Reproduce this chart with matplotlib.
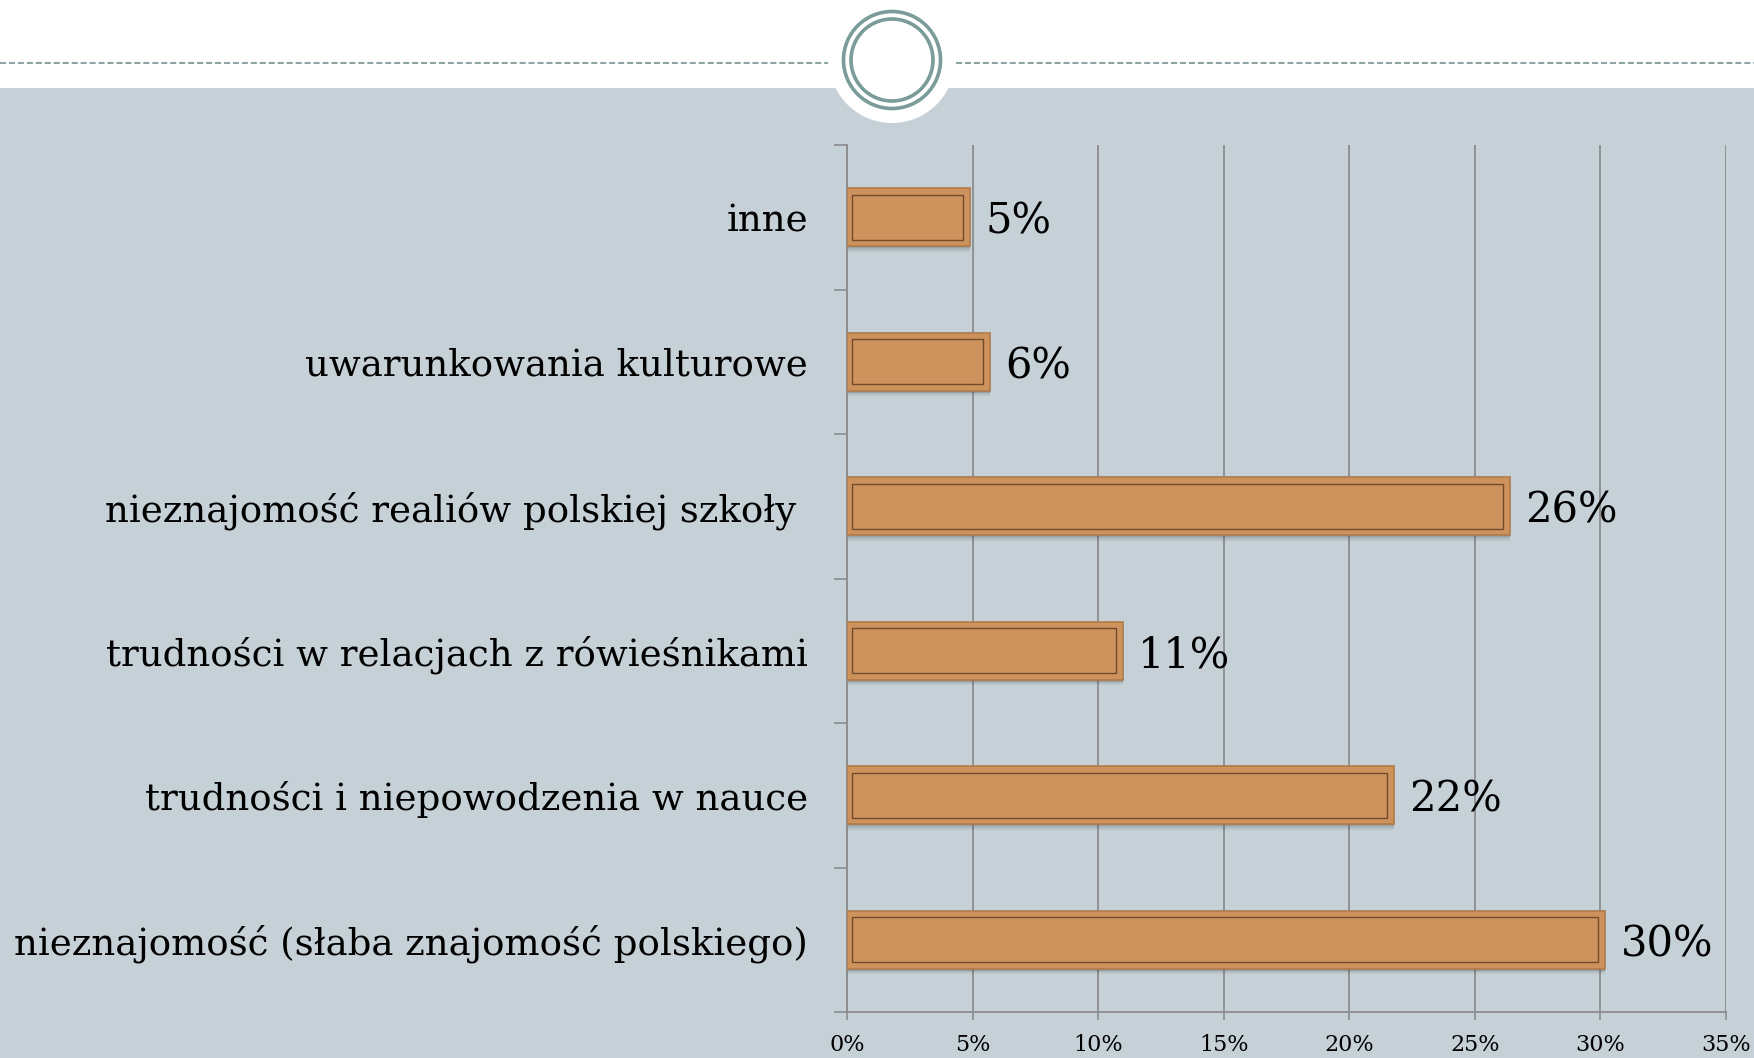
import numpy as np
import matplotlib
matplotlib.use("Agg")
from matplotlib import pyplot as plt
from matplotlib.patches import Rectangle, Circle

categories = [
    "nieznajomość (słaba znajomość polskiego)",
    "trudności i niepowodzenia w nauce",
    "trudności w relacjach z rówieśnikami",
    "nieznajomość realiów polskiej szkoły ",
    "uwarunkowania kulturowe",
    "inne",
]
values = [30.2, 21.8, 11.0, 26.4, 5.7, 4.9]
xticks = [0, 5, 10, 15, 20, 25, 30, 35]

W, H = 1754, 1058
plt.rcParams['font.family'] = ['DejaVu Serif']

fig = plt.figure(figsize=(W / 100, H / 100), dpi=100)
fig.patch.set_facecolor('white')

# background decoration in pixel coords
bg = fig.add_axes([0, 0, 1, 1], zorder=0)
bg.set_xlim(0, W)
bg.set_ylim(H, 0)
bg.axis('off')
bg.add_patch(Rectangle((0, 88), W, H - 88, facecolor='#c5d1d7', edgecolor='none'))
bg.plot([0, 828], [63, 63], color='#8fa3a6', lw=1.5, ls=(0, (2.9, 1.4)))
bg.plot([956, W], [63, 63], color='#8fa3a6', lw=1.5, ls=(0, (2.9, 1.4)))
bg.add_patch(Circle((892, 60), 63, facecolor='white', edgecolor='none'))
bg.add_patch(Circle((892, 60), 48.5, facecolor='none', edgecolor='#7b9b98', lw=2.6))
bg.add_patch(Circle((892, 60), 41, facecolor='none', edgecolor='#7b9b98', lw=2.6))

ax = fig.add_axes([847 / W, 46 / H, 879 / W, 867 / H], zorder=1)
ax.patch.set_alpha(0)
y = np.arange(len(categories))
h = 0.40

# soft shadow
for k, a in enumerate([0.14, 0.10, 0.07]):
    ax.barh(y - 0.013 * (k + 1), values, height=h, color='#2a2a2a', alpha=a,
            edgecolor='none', zorder=2)
ax.barh(y, values, height=h, color='#ce925c', edgecolor='#b07a4a', lw=1.2, zorder=3)
# inner bevel rectangle
ax.barh(y, [v - 0.48 for v in values], left=0.2, height=h * 0.77, color='none',
        edgecolor='#6e4b2b', lw=1.0, zorder=4)

for yi, v in zip(y, values):
    ax.text(v + 0.6, yi - 0.03, f"{v:.0f}%", va='center', ha='left', fontsize=30,
            color='black', zorder=5)

ax.set_xlim(0, 35)
ax.set_ylim(-0.5, len(categories) - 0.5)
ax.set_xticks(xticks)
ax.set_xticklabels([f"{t}%" for t in xticks], fontsize=16)
ax.set_yticks(y)
ax.set_yticklabels(categories, fontsize=26.7)
for lbl in ax.get_yticklabels():
    lbl.set_y(lbl.get_position()[1])
ax.set_yticks(np.arange(-0.5, len(categories), 1), minor=True)
ax.tick_params(axis='y', which='major', length=0, pad=28)
ax.tick_params(axis='y', which='minor', length=9.5, width=1.2, color='#8c8c8c')
ax.tick_params(axis='x', length=6, width=1.2, color='#8c8c8c', pad=10)
ax.grid(axis='x', color='#8c8c8c', lw=1.3, zorder=1)
ax.set_axisbelow(True)
for s in ['top', 'right']:
    ax.spines[s].set_visible(False)
for s in ['left', 'bottom']:
    ax.spines[s].set_color('#8c8c8c')
    ax.spines[s].set_linewidth(1.3)

fig.savefig('out.png', dpi=100)
